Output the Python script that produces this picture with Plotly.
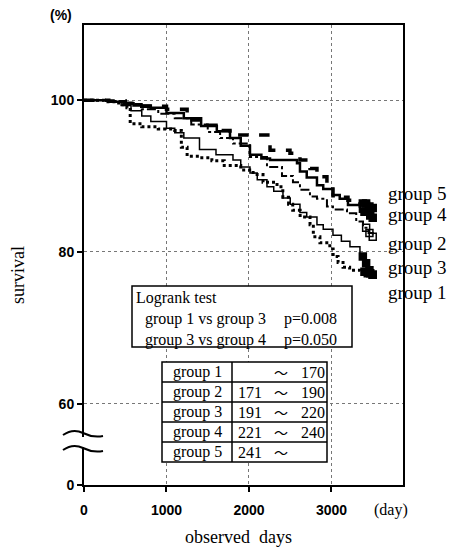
import plotly.graph_objects as go

# ---------------- data ----------------
g1_days = [0, 250, 420, 520, 560, 700, 900, 1100, 1180, 1250, 1400, 1550, 1700, 1900, 2050, 2170, 2340, 2410, 2480, 2530, 2620, 2740, 2780, 2860, 2980, 3020, 3080, 3140, 3220, 3350, 3430, 3480]
g1_surv = [100, 99.8, 99.4, 99.0, 96.9, 96.5, 96.2, 96.0, 93.8, 92.6, 92.4, 92.0, 91.4, 90.8, 90.2, 89.2, 88.6, 87.2, 86.3, 85.5, 84.6, 83.6, 82.0, 81.2, 80.4, 79.4, 78.6, 78.0, 77.6, 77.4, 77.2, 77.0]

g2_days = [0, 300, 500, 700, 900, 1100, 1300, 1500, 1650, 1806, 2012, 2218, 2400, 2533, 2618, 2739, 2824, 2945, 3018, 3188, 3300, 3382, 3450, 3500]
g2_surv = [100, 99.9, 99.5, 98.8, 98.2, 97.6, 96.8, 95.8, 95.0, 94.3, 92.5, 91.2, 90.0, 89.2, 88.2, 87.3, 87.0, 86.0, 85.6, 85.1, 84.0, 83.2, 82.5, 82.0]

g3_days = [0, 300, 450, 570, 700, 810, 1000, 1100, 1210, 1400, 1600, 1806, 1900, 2012, 2100, 2218, 2300, 2412, 2500, 2618, 2700, 2824, 2900, 3018, 3120, 3224, 3345, 3400, 3450, 3500]
g3_surv = [100, 99.8, 99.3, 98.6, 97.9, 97.2, 96.3, 95.7, 95.0, 93.5, 92.8, 92.1, 91.2, 90.4, 89.5, 88.6, 88.0, 87.1, 86.3, 85.2, 84.6, 83.6, 83.0, 82.2, 81.4, 80.7, 79.4, 78.5, 77.6, 77.0]

g4_days = [0, 300, 480, 600, 810, 1000, 1210, 1420, 1610, 1770, 1900, 2012, 2150, 2255, 2582, 2618, 2700, 2824, 2900, 3018, 3100, 3200, 3345, 3450, 3500]
g4_surv = [100, 99.8, 99.6, 99.3, 99.0, 98.3, 97.6, 96.6, 95.9, 95.0, 94.0, 92.8, 92.3, 92.1, 91.7, 90.6, 89.8, 88.8, 88.3, 87.5, 87.0, 86.2, 85.3, 84.8, 84.5]

g5_days = [0, 300, 500, 700, 1000, 1250, 1406, 1600, 1770, 2255, 2497, 2618, 2740, 2824, 2945, 3018, 3100, 3200, 3345, 3450, 3500]
g5_surv = [100, 99.9, 99.6, 99.2, 98.8, 97.4, 96.7, 96.0, 95.4, 93.4, 93.0, 92.1, 91.0, 89.9, 88.6, 87.4, 87.2, 86.8, 86.4, 86.0, 85.8]

# censored observations (days) near the end of follow-up
g1_cens = [3400, 3440, 3470, 3500]
g2_cens = [3420, 3460, 3500]
g3_cens = [3380, 3420, 3460, 3500]
g4_cens = [3400, 3440, 3470, 3500]
g5_cens = [3380, 3420, 3460, 3500]

group_names = ["group 1", "group 2", "group 3", "group 4", "group 5"]
range_low = ["", "171", "191", "221", "241"]
range_high = ["170", "190", "220", "240", ""]
logrank_lines = ["group 1 vs group 3", "group 3 vs group 4"]
logrank_p = ["p=0.008", "p=0.050"]

x_ticks = [0, 1000, 2000, 3000]
y_ticks = [60, 80, 100]
Y_ZERO_POS = 49.3   # axis position that carries the "0" label (broken axis)

# ---------------- geometry helpers ----------------
W, H = 453, 552
L, R, T, B = 84, 403, 25, 485


def pp(x, y):
    return (x - L) / (R - L), (B - y) / (B - T)


def km(days, surv, d):
    v = surv[0]
    for dd, s in zip(days, surv):
        if dd <= d:
            v = s
    return v


fig = go.Figure()

series = [
    (g1_days, g1_surv, g1_cens, dict(width=3, dash="dot"), "square"),
    (g2_days, g2_surv, g2_cens, dict(width=2, dash="dashdot"), "square-open"),
    (g3_days, g3_surv, g3_cens, dict(width=1.5, dash="solid"), "square"),
    (g4_days, g4_surv, g4_cens, dict(width=2.5, dash="solid"), "square"),
    (g5_days, g5_surv, g5_cens, dict(width=3.5, dash="dash"), "square"),
]
for days, surv, cens, ln, sym in series:
    fig.add_trace(go.Scatter(x=days, y=surv, mode="lines",
                             line=dict(color="black", shape="hv", **ln),
                             showlegend=False, hoverinfo="skip"))
    fig.add_trace(go.Scatter(x=cens, y=[km(days, surv, d) for d in cens], mode="markers",
                             marker=dict(symbol=sym, size=7, color="black",
                                         line=dict(color="black", width=1.5)),
                             showlegend=False, hoverinfo="skip"))

axis_common = dict(showline=True, linecolor="black", linewidth=2, mirror=True,
                   ticks="outside", ticklen=5, tickcolor="black", tickwidth=1.5,
                   showgrid=True, gridcolor="#777", griddash="dot", gridwidth=1,
                   zeroline=False,
                   tickfont=dict(family="Liberation Sans", size=14, color="black", weight="bold"))

fig.update_xaxes(range=[0, 3867], tickvals=x_ticks, ticktext=[str(v) for v in x_ticks],
                 ticklabelstandoff=6, **axis_common)
fig.update_yaxes(range=[Y_ZERO_POS, 109.9], tickvals=[Y_ZERO_POS] + y_ticks,
                 ticktext=["0"] + [str(v) for v in y_ticks], **axis_common)

shapes = []


def rect(x0, y0, x1, y1, lw=1.5, fill="white"):
    a0, b0 = pp(x0, y1)
    a1, b1 = pp(x1, y0)
    shapes.append(dict(type="rect", xref="paper", yref="paper", x0=a0, x1=a1, y0=b0, y1=b1,
                       fillcolor=fill, line=dict(color="black", width=lw), layer="above"))


def seg(x0, y0, x1, y1, lw=1.5):
    a0, b0 = pp(x0, y0)
    a1, b1 = pp(x1, y1)
    shapes.append(dict(type="line", xref="paper", yref="paper", x0=a0, x1=a1, y0=b0, y1=b1,
                       line=dict(color="black", width=lw), layer="above"))


# axis break: hide axis segment and draw two wavy strokes
bx0, by0 = pp(79, 447)
bx1, by1 = pp(89, 437)
shapes.append(dict(type="rect", xref="paper", yref="paper", x0=bx0, x1=bx1, y0=by0, y1=by1,
                   fillcolor="white", line=dict(width=0), layer="above"))


def wave(y):
    pts = [(63, y + 2), (73, y - 5), (83, y), (103, y + 3)]
    p = [pp(a, b) for a, b in pts]
    return "M {},{} Q {},{} {},{} T {},{}".format(p[0][0], p[0][1], p[1][0], p[1][1],
                                                  p[2][0], p[2][1], p[3][0], p[3][1])


for yy in (433, 448):
    shapes.append(dict(type="path", xref="paper", yref="paper", path=wave(yy),
                       line=dict(color="black", width=2), layer="above"))

# Logrank box
rect(132, 286, 352, 347)

# group table frame
TBL_X = [162, 232, 327]
TBL_TOP, ROW_H = 362, 20
n_rows = len(group_names)
rect(TBL_X[0], TBL_TOP, TBL_X[2], TBL_TOP + ROW_H * n_rows)
seg(TBL_X[1], TBL_TOP, TBL_X[1], TBL_TOP + ROW_H * n_rows)
for i in range(1, n_rows):
    seg(TBL_X[0], TBL_TOP + ROW_H * i, TBL_X[2], TBL_TOP + ROW_H * i)

fig.update_layout(shapes=shapes)

ann = []
serif = "Liberation Serif"


def add_text(txt, x, y, size, xanchor="center", family=serif, weight="normal", angle=0, pad=1):
    ax, ay = pp(x, y)
    ann.append(dict(text=txt, x=ax, y=ay, xref="paper", yref="paper", showarrow=False,
                    xanchor=xanchor, yanchor="middle", textangle=angle, borderpad=pad,
                    font=dict(family=family, size=size, color="black", weight=weight)))


add_text("Logrank test", 134, 298, 16, "left")
for i, (t, p) in enumerate(zip(logrank_lines, logrank_p)):
    add_text(t, 143, 319 + 21 * i, 16, "left")
    add_text(p, 282, 319 + 21 * i, 16, "left")

for i, (name, lo, hi) in enumerate(zip(group_names, range_low, range_high)):
    yc = TBL_TOP + ROW_H * i + ROW_H / 2
    add_text(name, (TBL_X[0] + TBL_X[1]) / 2, yc, 16)
    if lo:
        add_text(lo, 237, yc, 16, "left", pad=0)
    add_text("～", 281, yc, 14, family="Noto Sans CJK JP", pad=0)
    if hi:
        add_text(hi, 300, yc, 16, "left", pad=0)

label_y = {"group 5": 193, "group 4": 215, "group 2": 243, "group 3": 267, "group 1": 292}
for name in group_names:
    add_text(name, 386, label_y[name], 19, "left")

add_text("(%)", 61, 15, 14, "center", family="Liberation Sans", weight="bold")
add_text("survival", 18, 275, 18, "center", angle=-90)
add_text("observed\u00a0\u00a0days", 238, 537, 18, "center")
add_text("(day)", 391, 510, 16, "center")
fig.update_layout(annotations=ann)

fig.update_layout(width=W, height=H, autosize=False,
                  margin=dict(l=L, r=W - R, t=T, b=H - B, pad=0),
                  plot_bgcolor="white", paper_bgcolor="white", showlegend=False)

fig.write_html("out.html", config={"displayModeBar": False},
               post_script="document.body.style.margin='0';")
